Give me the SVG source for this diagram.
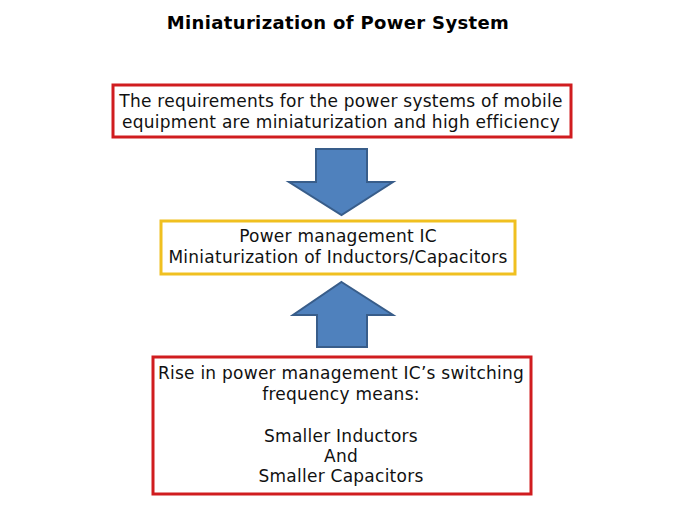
<svg xmlns="http://www.w3.org/2000/svg" width="675" height="506" viewBox="0 0 675 506">
<style>
.t{font-family:"DejaVu Sans","Liberation Sans",sans-serif;font-size:17px;letter-spacing:0.25px;fill:#111;text-anchor:middle}
.title{font-family:"DejaVu Sans","Liberation Sans",sans-serif;font-size:18px;letter-spacing:0.35px;font-weight:bold;fill:#000;text-anchor:middle}
.red{fill:#fff;stroke:#d01c1f;stroke-width:3}
.yel{fill:#fff;stroke:#f0c020;stroke-width:3}
.arr{fill:#4f81bd;stroke:#385d8a;stroke-width:2;stroke-linejoin:miter}
</style>
<rect width="675" height="506" fill="#fff"/>
<text class="title" x="338" y="29">Miniaturization of Power System</text>
<g id="connectors">
<path class="arr" d="M316,149 H367 V182 H393 L341.5,215 L289,182 H316 Z"/>
<path class="arr" d="M341.5,282 L393,315 H367 V347 H317 V315 H293 Z"/>
</g>
<g id="req">
<rect class="red" x="113" y="85" width="458" height="52"/>
<text class="t" x="341" y="107">The requirements for the power systems of mobile</text>
<text class="t" x="341" y="128">equipment are miniaturization and high efficiency</text>
</g>
<g id="pmic">
<rect class="yel" x="161" y="221" width="354" height="53"/>
<text class="t" x="338" y="242">Power management IC</text>
<text class="t" x="338" y="263">Miniaturization of Inductors/Capacitors</text>
</g>
<g id="rise">
<rect class="red" x="153" y="357" width="378" height="137"/>
<text class="t" x="341" y="379">Rise in power management IC’s switching</text>
<text class="t" x="341" y="400">frequency means:</text>
<text class="t" x="341" y="442">Smaller Inductors</text>
<text class="t" x="341" y="462">And</text>
<text class="t" x="341" y="482">Smaller Capacitors</text>
</g>
</svg>
